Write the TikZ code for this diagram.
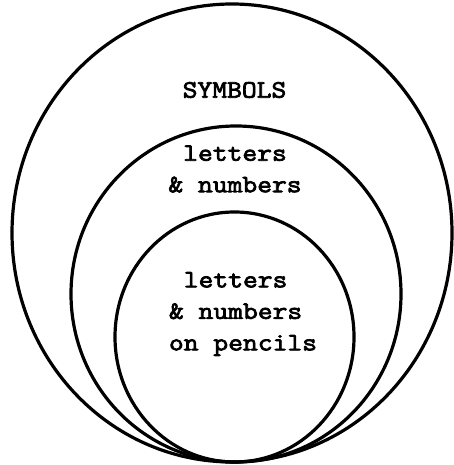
\documentclass[tikz,border=0pt]{standalone}
\usepackage{fontspec}
\newfontfamily\typew[FakeStretch=1.15,FakeBold=3]{Latin Modern Mono}
\usetikzlibrary{shapes.geometric}

\begin{document}
\begin{tikzpicture}[x=1pt, y=1pt,
  set/.style={draw, ellipse, line width=3.2pt, inner sep=0pt},
  lbl/.style={align=left, font=\typew\fontsize{25}{31.5}\selectfont, inner sep=0pt}]
\useasboundingbox (0,0) rectangle (453,465);
% nested sets, all touching at the bottom
\node[set, minimum width=440pt, minimum height=458pt] (set1) at (232,232) {};
\node[set, minimum width=330pt, minimum height=336pt] (set2) at (236,171) {};
\node[set, minimum width=239pt, minimum height=250pt] (set3) at (234.5,128) {};
\node[lbl] (lbl1) at (234.5,375) {SYMBOLS};
\node[lbl] (lbl2) at (235,296) {\hphantom{l}letters\\\& numbers};
\node[lbl] (lbl3) at (243,151) {\hphantom{l}letters\\\& numbers\\on pencils};
\end{tikzpicture}
\end{document}
